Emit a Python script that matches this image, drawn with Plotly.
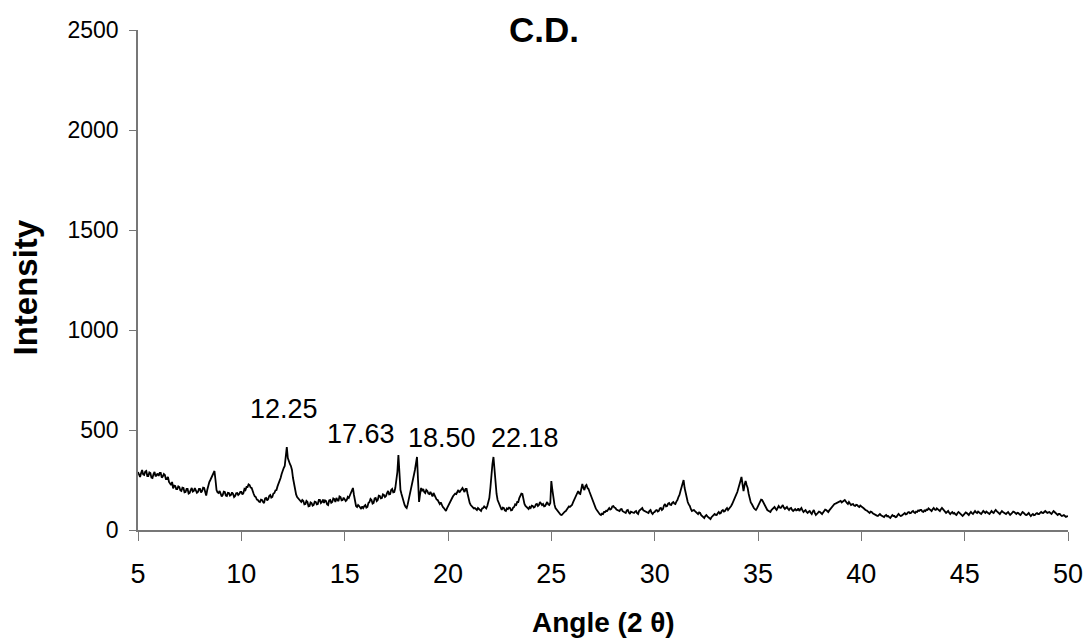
import plotly.graph_objects as go

# Intensity readings, one row per whole degree of 2-theta (step 0.05 within the row)
first_degree = 5
sub_step = 0.05

intensity_rows = [
    [290, 272, 265, 285, 300, 278, 275, 292, 295, 270, 270, 288, 285, 262, 260, 280, 290, 268, 275, 282],  # 5
    [270, 285, 285, 262, 268, 280, 275, 255, 255, 265, 240, 228, 225, 240, 208, 222, 220, 205, 205, 218],  # 6
    [215, 198, 195, 212, 210, 188, 190, 205, 205, 182, 185, 200, 210, 192, 195, 210, 200, 186, 190, 205],  # 7
    [205, 188, 195, 212, 210, 180, 172, 200, 225, 240, 250, 262, 275, 290, 295, 250, 200, 188, 185, 195],  # 8
    [180, 168, 175, 192, 190, 172, 170, 186, 185, 172, 175, 188, 180, 165, 170, 184, 185, 175, 180, 190],  # 9
    [190, 178, 185, 205, 200, 215, 215, 228, 225, 212, 210, 190, 180, 168, 165, 152, 150, 142, 140, 152],  # 10
    [150, 140, 135, 158, 160, 148, 155, 170, 175, 162, 165, 182, 185, 198, 200, 218, 230, 250, 260, 280],  # 11
    [300, 310, 320, 380, 415, 360, 340, 330, 320, 300, 260, 225, 200, 178, 165, 158, 150, 142, 140, 150],  # 12
    [145, 128, 130, 145, 140, 118, 120, 138, 135, 122, 125, 142, 140, 128, 130, 150, 150, 135, 140, 152],  # 13
    [135, 148, 145, 128, 125, 148, 150, 136, 140, 158, 155, 140, 160, 150, 145, 168, 165, 148, 150, 162],  # 14
    [155, 145, 150, 165, 160, 175, 185, 195, 210, 175, 140, 120, 115, 125, 120, 108, 105, 118, 110, 120],  # 15
    [125, 112, 115, 135, 140, 155, 150, 132, 135, 158, 160, 145, 150, 172, 170, 158, 160, 178, 175, 165],  # 16
    [170, 185, 195, 178, 180, 200, 205, 188, 190, 210, 240, 290, 375, 260, 200, 180, 160, 140, 125, 115],  # 17
    [110, 128, 150, 175, 200, 230, 250, 275, 300, 330, 365, 250, 140, 180, 210, 195, 205, 190, 185, 200],  # 18
    [195, 182, 180, 190, 175, 168, 185, 172, 160, 152, 150, 140, 130, 138, 125, 115, 110, 100, 95, 108],   # 19
    [120, 130, 140, 150, 160, 170, 175, 182, 180, 195, 200, 188, 195, 208, 210, 200, 190, 205, 205, 180],  # 20
    [150, 135, 125, 118, 115, 108, 110, 102, 100, 110, 105, 96, 95, 108, 110, 118, 115, 108, 120, 135],    # 21
    [160, 210, 280, 330, 365, 300, 220, 180, 150, 135, 120, 110, 100, 112, 110, 98, 95, 108, 105, 112],    # 22
    [110, 98, 100, 112, 115, 128, 125, 140, 140, 160, 175, 182, 180, 150, 130, 120, 115, 108, 105, 115],   # 23
    [110, 122, 120, 112, 115, 128, 130, 120, 125, 140, 135, 125, 130, 118, 120, 135, 140, 128, 125, 135],  # 24
    [245, 200, 150, 128, 110, 102, 100, 88, 80, 76, 75, 82, 85, 92, 95, 104, 110, 118, 115, 120],          # 25
    [125, 138, 150, 162, 170, 185, 195, 182, 180, 205, 230, 210, 200, 220, 225, 210, 205, 190, 175, 165],  # 26
    [150, 132, 120, 108, 100, 92, 85, 78, 75, 82, 80, 90, 90, 96, 95, 104, 110, 102, 105, 118],            # 27
    [120, 112, 110, 102, 100, 96, 95, 104, 105, 94, 90, 86, 85, 98, 100, 88, 80, 92, 90, 86],              # 28
    [85, 92, 95, 84, 80, 96, 100, 108, 110, 98, 95, 90, 90, 84, 85, 96, 100, 86, 80, 88],                  # 29
    [90, 98, 100, 92, 95, 108, 110, 100, 105, 122, 130, 118, 120, 132, 135, 126, 125, 136, 140, 132],      # 30
    [130, 142, 150, 165, 175, 195, 210, 235, 250, 210, 180, 158, 140, 128, 120, 105, 95, 98, 100, 94],     # 31
    [90, 84, 80, 88, 85, 74, 70, 64, 60, 70, 75, 68, 65, 58, 55, 64, 70, 78, 80, 76],                      # 32
    [75, 84, 90, 82, 85, 96, 100, 92, 95, 104, 110, 100, 105, 115, 120, 130, 140, 152, 165, 178],          # 33
    [190, 205, 220, 245, 265, 215, 195, 225, 245, 225, 210, 180, 150, 138, 130, 118, 110, 104, 100, 108],  # 34
    [120, 135, 145, 152, 150, 138, 130, 118, 110, 100, 95, 92, 90, 100, 105, 112, 115, 106, 100, 110],     # 35
    [120, 112, 110, 118, 125, 112, 105, 110, 115, 106, 100, 108, 110, 100, 95, 100, 105, 98, 100, 108],    # 36
    [95, 104, 110, 98, 90, 96, 100, 90, 85, 92, 95, 86, 80, 92, 100, 86, 75, 80, 85, 92],                  # 37
    [90, 84, 80, 88, 95, 102, 100, 92, 90, 98, 105, 114, 120, 126, 130, 132, 135, 138, 140, 146],          # 38
    [145, 138, 140, 146, 150, 140, 135, 130, 140, 132, 125, 128, 130, 122, 120, 126, 125, 118, 115, 122],  # 39
    [120, 114, 110, 104, 100, 98, 95, 88, 85, 92, 90, 84, 80, 78, 75, 72, 70, 76, 80, 74],                 # 40
    [70, 66, 65, 72, 75, 68, 70, 64, 60, 68, 75, 70, 70, 64, 65, 74, 80, 74, 70, 72],                      # 41
    [75, 82, 85, 78, 80, 88, 90, 84, 85, 92, 95, 88, 85, 92, 90, 98, 95, 100, 100, 92],                    # 42
    [90, 98, 95, 102, 100, 108, 105, 98, 95, 104, 110, 102, 100, 108, 105, 98, 95, 104, 110, 104],         # 43
    [100, 92, 85, 90, 95, 86, 80, 86, 90, 82, 85, 78, 75, 84, 90, 86, 80, 74, 70, 76],                     # 44
    [80, 88, 85, 78, 75, 84, 90, 84, 80, 88, 95, 88, 85, 92, 90, 84, 80, 90, 95, 90],                      # 45
    [85, 92, 90, 84, 80, 90, 95, 88, 85, 94, 100, 94, 90, 84, 80, 88, 95, 90, 85, 80],                     # 46
    [80, 86, 90, 82, 75, 80, 85, 92, 90, 84, 80, 86, 85, 78, 75, 82, 90, 86, 80, 76],                      # 47
    [75, 82, 85, 76, 70, 76, 80, 74, 75, 82, 85, 80, 80, 86, 90, 86, 85, 90, 95, 90],                      # 48
    [85, 88, 90, 84, 80, 88, 95, 90, 85, 78, 75, 80, 80, 74, 70, 72, 75, 70, 65, 68],                      # 49
    [70],                                                                                                   # 50
]

angles = []
intensity = []
for r, row in enumerate(intensity_rows):
    for j, v in enumerate(row):
        angles.append(round(first_degree + r + j * sub_step, 2))
        intensity.append(v)

peak_labels = ["12.25", "17.63", "18.50", "22.18"]
peak_label_x = [12.05, 15.8, 19.69, 23.73]
peak_label_y = [603, 478, 458, 458]

x_ticks = [5, 10, 15, 20, 25, 30, 35, 40, 45, 50]
y_ticks = [0, 500, 1000, 1500, 2000, 2500]

FONT = "Liberation Sans, Arial, sans-serif"

fig = go.Figure()
fig.add_trace(go.Scatter(
    x=angles, y=intensity, mode="lines",
    line=dict(color="black", width=1.8),
    showlegend=False, hoverinfo="skip",
))

for txt, xv, yv in zip(peak_labels, peak_label_x, peak_label_y):
    fig.add_annotation(x=xv, y=yv, xref="x", yref="y", text=txt, showarrow=False,
                       font=dict(family=FONT, size=27, color="black"))

fig.add_annotation(x=(603.5 - 138) / 930, y=-(622 - 530) / 500, xref="paper", yref="paper",
                   text="<b>Angle (2 θ)</b>", showarrow=False, xanchor="center", yanchor="middle",
                   font=dict(family=FONT, size=28, color="black"))
fig.add_annotation(x=(25 - 138) / 930, y=(530 - 287.5) / 500, xref="paper", yref="paper",
                   text="<b>Intensity</b>", showarrow=False, textangle=-90,
                   xanchor="center", yanchor="middle",
                   font=dict(family=FONT, size=33, color="black"))

fig.update_layout(
    width=1087, height=638,
    margin=dict(l=138, r=19, t=30, b=108, pad=0, autoexpand=False),
    paper_bgcolor="white", plot_bgcolor="white",
    title=dict(text="<b>C.D.</b>", x=544 / 1087, xref="container", xanchor="center",
               y=1 - 30 / 638, yref="container", yanchor="middle",
               font=dict(family=FONT, size=35, color="black")),
    font=dict(family=FONT, color="black"),
)

fig.update_xaxes(range=[5, 50], tickvals=x_ticks, ticks="outside", ticklen=9, tickwidth=1,
                 tickcolor="#777777", showline=True, linecolor="#777777", linewidth=1.5,
                 showgrid=False, zeroline=False, automargin=False,
                 tickfont=dict(family=FONT, size=27, color="black"),
                 ticklabelstandoff=10)
fig.update_yaxes(range=[0, 2500], tickvals=y_ticks, ticks="outside", ticklen=7, tickwidth=1,
                 tickcolor="#777777", showline=True, linecolor="#777777", linewidth=1.5,
                 showgrid=False, zeroline=False, automargin=False,
                 tickfont=dict(family=FONT, size=23, color="black"),
                 ticklabelstandoff=6)

fig.write_html("out.html")
